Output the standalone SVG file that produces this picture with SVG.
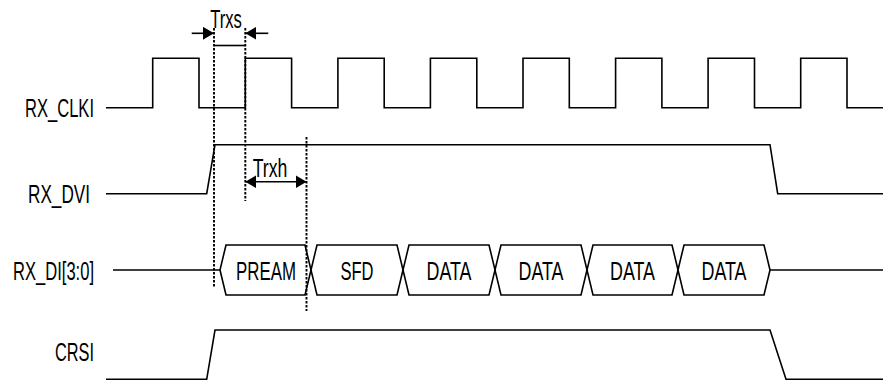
<svg xmlns="http://www.w3.org/2000/svg" width="883" height="383" viewBox="0 0 883 383">
<style>
.sig{fill:none;stroke:#000;stroke-width:1.6}
.dash{fill:none;stroke:#000;stroke-width:1.9;stroke-dasharray:2.5 1.5}
.t{font-family:"Liberation Sans",Arial,sans-serif;font-size:26px;fill:#000}
.lab{font-family:"Liberation Sans",Arial,sans-serif;font-size:26px;fill:#000;text-anchor:middle}
</style>
<defs>
<marker id="ah" viewBox="0 0 11 13" refX="11" refY="6.5" markerWidth="11" markerHeight="13" markerUnits="userSpaceOnUse" orient="auto-start-reverse">
<path d="M0,0 L11,6.5 L0,13 Z" fill="#000"/>
</marker>
</defs>
<rect width="883" height="383" fill="#fff"/>
<g id="labels">
<text class="t" x="25" y="117" textLength="69" lengthAdjust="spacingAndGlyphs">RX_CLKI</text>
<text class="t" x="28" y="203" textLength="62" lengthAdjust="spacingAndGlyphs">RX_DVI</text>
<text class="t" x="13" y="280" textLength="81" lengthAdjust="spacingAndGlyphs">RX_DI[3:0]</text>
<text class="t" x="55" y="361" textLength="39" lengthAdjust="spacingAndGlyphs">CRSI</text>
</g>
<g id="rx_clki">
<path class="sig" d="M106,107.7 H152.7 V58.3 H199 V107.7 H245.3 V58.3 H291.6 V107.7 H337.9 V58.3 H384.2 V107.7 H430.4 V58.3 H476.8 V107.7 H523 V58.3 H569.3 V107.7 H615.6 V58.3 H661.9 V107.7 H708.1 V58.3 H754.5 V107.7 H800.7 V58.3 H847 V107.7 H883"/>
</g>
<g id="rx_dvi">
<path class="sig" d="M106,193.7 H206.7 L215,144.7 H770 L777.7,193.7 H883"/>
</g>
<g id="rx_di">
<path class="sig" d="M113,270 H220 L226,245 H305 L317,295 H397 L409,245 H489 L501,295 H581 L593,245 H672 L684,295 H764 L770,270 H883"/>
<path class="sig" d="M220,270 L226,295 H305 L317,245 H397 L409,295 H489 L501,245 H581 L593,295 H672 L684,245 H764 L770,270"/>
<text class="lab" x="266" y="280" textLength="60" lengthAdjust="spacingAndGlyphs">PREAM</text>
<text class="lab" x="357" y="280" textLength="33" lengthAdjust="spacingAndGlyphs">SFD</text>
<text class="lab" x="449" y="280" textLength="45" lengthAdjust="spacingAndGlyphs">DATA</text>
<text class="lab" x="541" y="280" textLength="45" lengthAdjust="spacingAndGlyphs">DATA</text>
<text class="lab" x="632.5" y="280" textLength="45" lengthAdjust="spacingAndGlyphs">DATA</text>
<text class="lab" x="724" y="280" textLength="45" lengthAdjust="spacingAndGlyphs">DATA</text>
</g>
<g id="crsi">
<path class="sig" d="M106,379.3 H206.7 L215,330 H770 L786,379.3 H883"/>
</g>
<g id="timing">
<line class="dash" x1="214" y1="28" x2="214" y2="288"/>
<line class="dash" x1="245.3" y1="28" x2="245.3" y2="201"/>
<line class="dash" x1="306.5" y1="137" x2="306.5" y2="311"/>
<line class="sig" x1="191.7" y1="33.3" x2="214" y2="33.3" marker-end="url(#ah)"/>
<line class="sig" x1="268.3" y1="33.3" x2="245.3" y2="33.3" marker-end="url(#ah)"/>
<line class="sig" x1="214" y1="45.5" x2="245.3" y2="45.5"/>
<text class="lab" x="226" y="28" textLength="31.7" lengthAdjust="spacingAndGlyphs">Trxs</text>
<line class="sig" x1="245.3" y1="181.7" x2="306.5" y2="181.7" marker-start="url(#ah)" marker-end="url(#ah)"/>
<text class="lab" x="270" y="177" textLength="34.6" lengthAdjust="spacingAndGlyphs">Trxh</text>
</g>
</svg>
